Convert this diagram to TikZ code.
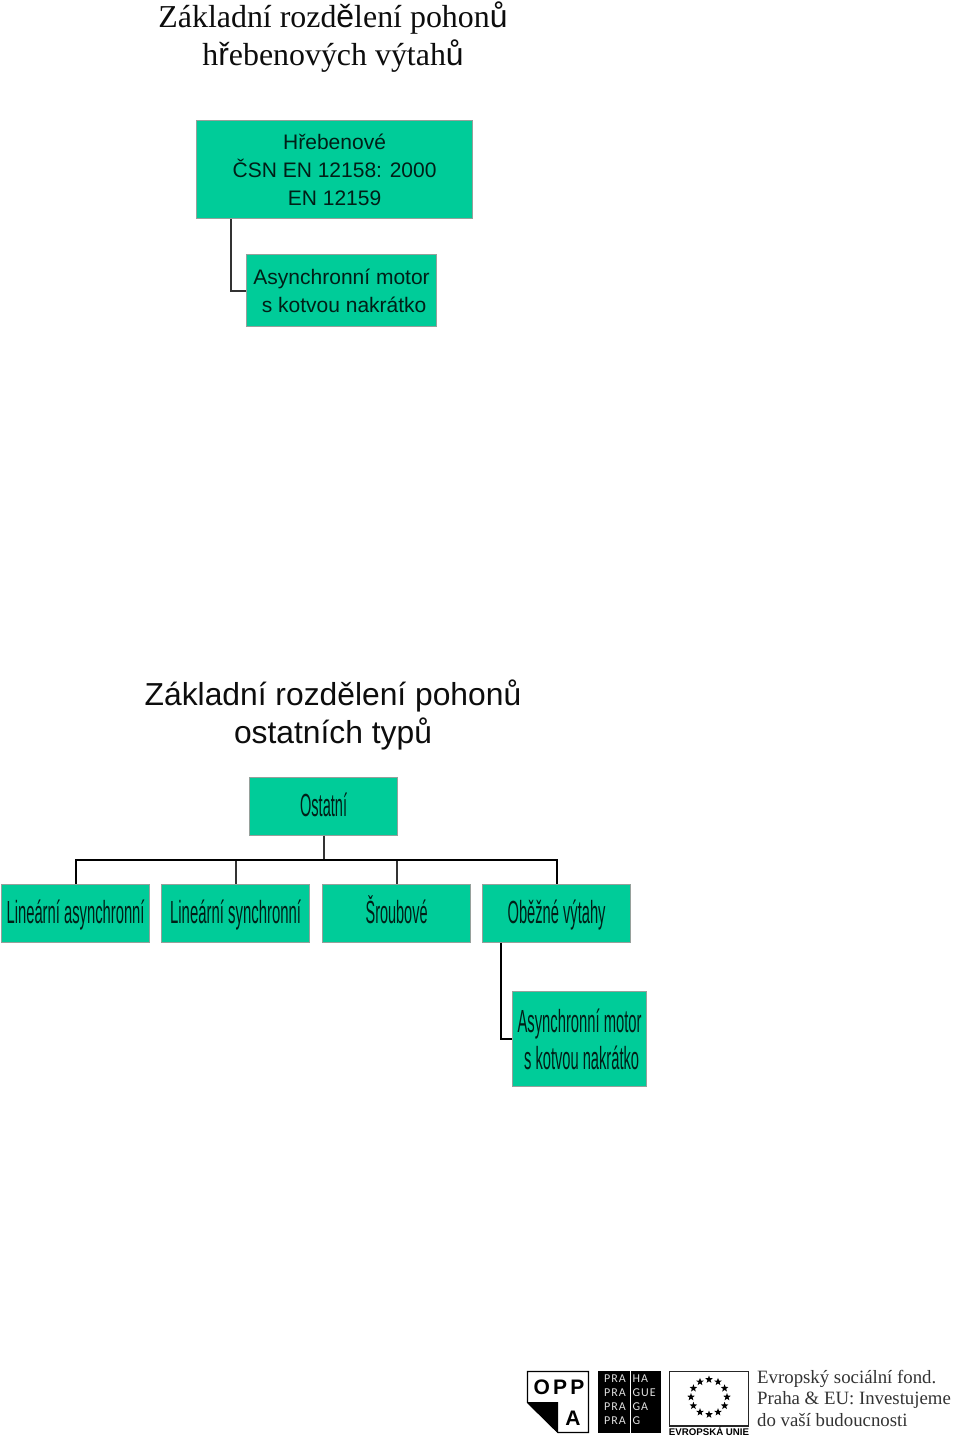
\documentclass[tikz,border=0pt]{standalone}
\usepackage{fontspec}
\usepackage{graphicx}
\usetikzlibrary{shapes.geometric}
\setmainfont{Liberation Sans}
\newfontfamily\seriffont{Liberation Serif}
\newfontfamily\sansfont{Liberation Sans}
\newfontfamily\prafont{Carlito}
\newcommand{\nar}[2]{\resizebox{#1pt}{\height}{#2}}
\definecolor{boxgreen}{RGB}{0,204,153}
\definecolor{boxedge}{RGB}{150,160,155}
\tikzset{
  box/.style={draw=boxedge,line width=1pt,fill=boxgreen,inner sep=0pt,align=center,text=black!85!boxgreen},
  wide/.style={box,font=\fontsize{21}{28}\selectfont},
  narrow/.style={box,font=\fontsize{32}{37}\selectfont,minimum width=148pt,minimum height=58pt},
  single/.style={narrow,text height=25.5pt,text depth=4.5pt},
  link/.style={draw=black!80,line width=2pt},
  buslink/.style={draw=black,line width=2pt},
  heading/.style={inner sep=0pt,align=center,text=black!95},
  estar/.style={star,star points=5,star point ratio=2.4,fill=black,draw=none,inner sep=0pt,minimum size=8pt},
  pra/.style={inner sep=0pt,anchor=north west,align=left,text=white!88!black,font=\fontsize{12}{13.7}\prafont\selectfont\addfontfeatures{LetterSpace=8}},
  oppa/.style={inner sep=0pt,font=\fontsize{21}{21}\selectfont\bfseries},
}
\begin{document}
\begin{tikzpicture}[x=1pt,y=-1pt]
\useasboundingbox[fill=white] (0,0) rectangle (960,1439);

% upper chart
\node[heading,font=\fontsize{31.9}{38}\selectfont\seriffont] (title1) at (333,37)
  {Základní rozd{\sansfont ě}lení pohon{\sansfont ů}\\h{\sansfont ř}ebenových výtah{\sansfont ů}};
\node[wide,minimum width=276pt,minimum height=98pt] (hreb) at (334.6,170)
  {Hřebenové\\ČSN EN 12158: 2000\\EN 12159};
\node[wide,minimum width=190pt,minimum height=71pt] (asyn1) at (341.6,290.5)
  {Asynchronní motor\\\hspace{5pt}s kotvou nakrátko};
\draw[link] ([xshift=-103.6pt]hreb.south) |- (asyn1.west);

% lower chart
\node[heading,font=\fontsize{31.8}{38}\selectfont] (title2) at (333,715)
  {Základní rozdělení pohonů\\ostatních typů};
\node[single] (ost) at (323.6,806) {\nar{47}{Ostatní}};
\node[single] (l1) at (75.6,913) {\nar{138}{Lineární asynchronní}};
\node[single] (l2) at (235.6,913) {\nar{131}{Lineární synchronní}};
\node[single] (l3) at (396.6,913) {\nar{62}{Šroubové}};
\node[single] (l4) at (556.6,913) {\nar{98}{Oběžné výtahy}};
\node[narrow,minimum width=134pt,minimum height=95pt] (asyn2) at (579.6,1039.3)
  {\nar{124}{Asynchronní motor}\\\hspace{4pt}\nar{115}{s kotvou nakrátko}};
\coordinate (bus) at (323.6,860);
\draw[link] (ost.south) -- (bus);
\draw[link] (l2.north) -- (l2.north |- bus);
\draw[link] (l3.north) -- (l3.north |- bus);
\draw[buslink] (l1.north) |- (bus) -| (l4.north);
\draw[buslink] ([xshift=-55.6pt]l4.south) |- (asyn2.west);

% OPPA logo
\draw[black,line width=1.3pt,fill=white] (527.5,1371.5) -- (588.5,1371.5) -- (588.5,1432.5) -- (558,1432.5) -- (527.5,1402.5) -- cycle;
\fill[black] (527,1402) -- (558,1402) -- (558,1433) -- cycle;
\node[oppa,font=\fontsize{21}{21}\selectfont\bfseries\addfontfeatures{LetterSpace=15}] (opp) at (559,1387) {OPP};
\node[oppa] (oa) at (573,1418) {A};

% Praha logo
\fill[black] (598,1371) rectangle (661,1433);
\draw[white,line width=0.8pt] (630,1371) -- (630,1433);
\node[pra] (pra1) at (604,1375) {PRA\\PRA\\PRA\\PRA};
\node[pra] (pra2) at (632.5,1375) {HA\\GUE\\GA\\G};

% EU logo
\draw[black!85,line width=1.2pt,fill=white] (669.5,1371.5) rectangle (748.5,1426);
\foreach \a in {0,30,...,330}
  \node[estar] (eu\a) at ({709+18*cos(\a)},{1397+17.5*sin(\a)}) {};
\node[inner sep=0pt,font=\fontsize{9.7}{10}\selectfont\bfseries] (eutext) at (709,1431) {EVROPSKÁ UNIE};

% ESF text
\node[inner sep=0pt,anchor=north west,align=left,text=black!80,font=\fontsize{18.8}{21.5}\selectfont\seriffont] (esf) at (757,1370)
  {Evropský sociální fond.\\Praha \& EU: Investujeme\\do vaší budoucnosti};
\end{tikzpicture}
\end{document}
